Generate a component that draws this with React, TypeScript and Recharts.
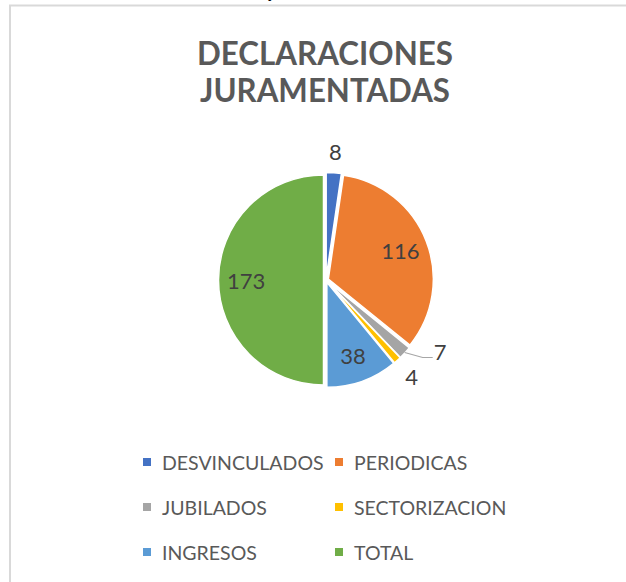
import { PieChart, Pie, Cell, Legend, Sector } from 'recharts';

const categories = ['DESVINCULADOS', 'PERIODICAS', 'JUBILADOS', 'SECTORIZACION', 'INGRESOS', 'TOTAL'];
const values = [8, 116, 7, 4, 38, 173];
const colors = ['#4472C4', '#ED7D31', '#A5A5A5', '#FFC000', '#5B9BD5', '#70AD47'];
const titleLines = ['DECLARACIONES', 'JURAMENTADAS'];
// labels Excel dragged off with a leader line
const leaderLabels = ['JUBILADOS'];

const data = categories.map((name, i) => ({ name, value: values[i] }));

const RAD = Math.PI / 180;
const FONT = 'Lato, "Open Sans", sans-serif';

function polar(cx: number, cy: number, r: number, angle: number) {
  return { x: cx + r * Math.cos(-angle * RAD), y: cy + r * Math.sin(-angle * RAD) };
}

// slightly exploded slices, like the Excel original
function ExplodedSlice(props: any) {
  const { cx, cy, midAngle } = props;
  const p = polar(cx, cy, 2.5, midAngle);
  return <Sector {...props} cx={p.x} cy={p.y} />;
}

function renderLabel(props: any) {
  const { cx, cy, midAngle, outerRadius, percent, value, name } = props;
  const style = { fontFamily: FONT, fontSize: 22, fill: '#404040' };
  if (percent >= 0.03) {
    const p = polar(cx, cy, outerRadius * 0.76, midAngle);
    return (
      <text x={p.x} y={p.y} textAnchor="middle" dominantBaseline="central" style={style}>
        {value}
      </text>
    );
  }
  if (leaderLabels.includes(name)) {
    const s = polar(cx, cy, outerRadius + 2, midAngle);
    const e = { x: s.x + 18, y: s.y + 5 };
    return (
      <g>
        <polyline
          points={`${s.x},${s.y} ${e.x},${e.y} ${e.x + 10},${e.y}`}
          fill="none"
          stroke="#A6A6A6"
          strokeWidth={1.2}
        />
        <text x={e.x + 11} y={e.y - 6} dominantBaseline="central" style={style}>
          {value}
        </text>
      </g>
    );
  }
  const p = polar(cx, cy, outerRadius + 24, midAngle);
  return (
    <text x={p.x} y={p.y} textAnchor="middle" dominantBaseline="central" style={style}>
      {value}
    </text>
  );
}

function renderLegend(props: any) {
  const payload = [...(props.payload || [])].sort(
    (a: any, b: any) => categories.indexOf(a.value) - categories.indexOf(b.value)
  );
  return (
    <svg width={626} height={130}>
      {payload.map((entry: any, i: number) => {
        const col = i % 2;
        const row = Math.floor(i / 2);
        const x = 143 + col * 192;
        const y = 22 + row * 45;
        return (
          <g key={entry.value}>
            <rect x={x} y={y - 4} width={8} height={8} fill={entry.color} />
            <text
              x={x + 19}
              y={y}
              dominantBaseline="central"
              style={{ fontFamily: FONT, fontSize: 19.5, fill: '#595959' }}
            >
              {entry.value}
            </text>
          </g>
        );
      })}
    </svg>
  );
}

export default function App() {
  return (
    <div style={{ position: 'absolute', left: 0, top: 0, width: 626, height: 582, background: '#fff', overflow: 'hidden' }}>
      <svg width={626} height={582} style={{ position: 'absolute', left: 0, top: 0 }}>
        <text x={268} y={-3} style={{ fontFamily: 'Liberation Serif, serif', fontSize: 16, fontWeight: 700, fill: '#000' }}>
          y
        </text>
        <rect x={10} y={5.5} width={640} height={600} fill="none" stroke="#D9D9D9" strokeWidth={2} />
        {titleLines.map((line, i) => (
          <text
            key={line}
            x={325}
            y={65 + i * 37}
            textAnchor="middle"
            textLength={i === 0 ? 256 : 250}
            lengthAdjust="spacingAndGlyphs"
            style={{ fontFamily: FONT, fontSize: 32, fontWeight: 700, fill: '#595959' }}
          >
            {line}
          </text>
        ))}
      </svg>
      <PieChart
        width={626}
        height={582}
        margin={{ top: 0, right: 0, bottom: 0, left: 0 }}
        style={{ position: 'absolute', left: 0, top: 0 }}
      >
        <Pie
          data={data}
          dataKey="value"
          nameKey="name"
          cx={326}
          cy={280}
          outerRadius={105}
          startAngle={90}
          endAngle={-270}
          stroke="#fff"
          strokeWidth={1.5}
          shape={ExplodedSlice}
          label={renderLabel}
          labelLine={false}
          isAnimationActive={false}
        >
          {data.map((d, i) => (
            <Cell key={d.name} fill={colors[i]} />
          ))}
        </Pie>
        <Legend
          content={renderLegend}
          wrapperStyle={{ position: 'absolute', left: 0, top: 440, width: 626, height: 130 }}
        />
      </PieChart>
    </div>
  );
}
